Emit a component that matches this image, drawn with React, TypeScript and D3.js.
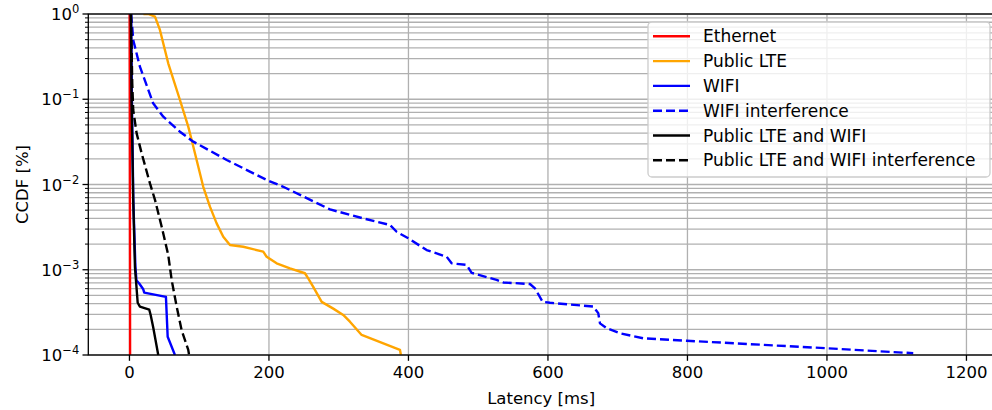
import React from 'react';
import * as d3 from 'd3';

// latency [ms] / CCDF values
const ethernetLat = [0.3, 0.5, 0.8, 1.0];
const ethernetCcdf = [1, 0.1, 0.001, 0.00001];

const lteLat = [20, 27, 36.6, 43.7, 55.6, 72.4, 84.3, 89.2, 96.3, 105.8, 115.4, 125, 134.5, 144.1, 163.2, 191.8, 196.7, 211, 230.1, 251.6, 256.3, 263.5, 275.6, 292.2, 306.5, 316.1, 332.9, 387.8, 389.2];
const lteCcdf = [1, 1, 0.93, 0.65, 0.264, 0.098, 0.0477, 0.0333, 0.0194, 0.0094, 0.0055, 0.0035, 0.00244, 0.00195, 0.00186, 0.00163, 0.00142, 0.00119, 0.00104, 0.00091, 0.00079, 0.00063, 0.00042, 0.00035, 0.000295, 0.000246, 0.000172, 0.000115, 0.0001];

const wifiLat = [2.5, 3.5, 5.5, 8.5, 10, 14, 19.8, 21.2, 52.3, 54.8, 65.2];
const wifiCcdf = [1, 0.1, 0.0066, 0.0011, 0.00075, 0.00069, 0.00059, 0.00054, 0.00048, 0.000164, 0.0001];

const wifiIntLat = [2, 4, 5.4, 15, 34, 48.5, 72.4, 91.5, 139.4, 196.7, 220.5, 287.5, 335.2, 373.5, 383.1, 399.7, 426.1, 454.8, 461.9, 483.4, 490.6, 526.4, 535.9, 574.2, 581.4, 592.4, 602.9, 664.9, 672.1, 674.6, 684.2, 703.2, 736.6, 798.9, 999.6, 1123.7];
const wifiIntCcdf = [1, 0.7, 0.495, 0.241, 0.0897, 0.0624, 0.0416, 0.0318, 0.0194, 0.0113, 0.0094, 0.0051, 0.004, 0.00335, 0.00279, 0.00234, 0.0017, 0.00142, 0.00119, 0.00114, 0.00092, 0.00076, 0.00071, 0.00068, 0.000605, 0.00042, 0.00041, 0.00037, 0.00031, 0.000235, 0.000206, 0.00018, 0.000157, 0.000147, 0.00012, 0.000105];

const lteWifiLat = [2, 3, 5.4, 7.9, 9.3, 11.8, 15, 28.4, 30.4, 34.1, 41.3];
const lteWifiCcdf = [1, 0.1, 0.0066, 0.00107, 0.00076, 0.00041, 0.00037, 0.00034, 0.000295, 0.00021, 0.0001];

const lteWifiIntLat = [2.2, 4, 5.4, 10.3, 17.5, 29.4, 36.6, 46.2, 55.6, 60.5, 67.7, 74.8, 84.3, 85.5];
const lteWifiIntCcdf = [1, 0.154, 0.0748, 0.0398, 0.0232, 0.0103, 0.0066, 0.0032, 0.00149, 0.00076, 0.00037, 0.000196, 0.000115, 0.0001];

const xTicks = [0, 200, 400, 600, 800, 1000, 1200];
const yExps = [0, -1, -2, -3, -4];

const series = [
  { name: 'Ethernet', lat: ethernetLat, ccdf: ethernetCcdf, color: 'red', dash: null },
  { name: 'Public LTE', lat: lteLat, ccdf: lteCcdf, color: 'orange', dash: null },
  { name: 'WIFI', lat: wifiLat, ccdf: wifiCcdf, color: 'blue', dash: null },
  { name: 'WIFI interference', lat: wifiIntLat, ccdf: wifiIntCcdf, color: 'blue', dash: '9,4' },
  { name: 'Public LTE and WIFI', lat: lteWifiLat, ccdf: lteWifiCcdf, color: 'black', dash: null },
  { name: 'Public LTE and WIFI interference', lat: lteWifiIntLat, ccdf: lteWifiIntCcdf, color: 'black', dash: '9,4' },
];

const W = 992;
const H = 410;
const left = 88.3;
const top = 14;
const bottom = 355;
const font = 'DejaVu Sans, sans-serif';

export default function App() {
  const x = d3.scaleLinear().domain([-59, 1240]).range([left, left + 1299 * 0.6975]);
  const y = d3.scaleLog().domain([1e-4, 1]).range([bottom, top]);
  const right = x(1240);

  const line = d3.line<[number, number]>()
    .x(d => x(d[0]))
    .y(d => y(d[1]));

  const minor: number[] = [];
  for (let e = -4; e < 0; e++) {
    for (let m = 2; m <= 9; m++) minor.push(m * Math.pow(10, e));
  }

  const gridColor = '#b0b0b0';

  return (
    <svg width={W} height={H} style={{ position: 'absolute', left: 0, top: 0, background: 'white' }} fontFamily={font}>
      <defs>
        <clipPath id="plot">
          <rect x={left} y={top} width={right - left} height={bottom - top} />
        </clipPath>
      </defs>
      {/* grid */}
      {minor.map(v => (
        <line key={'mg' + v} x1={left} x2={right} y1={y(v)} y2={y(v)} stroke={gridColor} strokeWidth={1.3} />
      ))}
      {yExps.map(e => (
        <line key={'yg' + e} x1={left} x2={right} y1={y(Math.pow(10, e))} y2={y(Math.pow(10, e))} stroke={gridColor} strokeWidth={1.3} />
      ))}
      {xTicks.map(t => (
        <line key={'xg' + t} x1={x(t)} x2={x(t)} y1={top} y2={bottom} stroke={gridColor} strokeWidth={1.3} />
      ))}
      {/* series */}
      <g clipPath="url(#plot)">
        {series.map(s => (
          <path key={s.name}
            d={line(s.lat.map((l, i) => [l, s.ccdf[i]] as [number, number])) || ''}
            fill="none" stroke={s.color} strokeWidth={2.4}
            strokeDasharray={s.dash || undefined} strokeLinejoin="round" />
        ))}
      </g>
      {/* spines */}
      <rect x={left} y={top} width={right - left} height={bottom - top} fill="none" stroke="black" strokeWidth={1.3} />
      {/* x axis */}
      {xTicks.map(t => (
        <g key={'xt' + t}>
          <line x1={x(t)} x2={x(t)} y1={bottom} y2={bottom + 5.8} stroke="black" strokeWidth={1.3} />
          <text x={x(t)} y={bottom + 23} textAnchor="middle" fontSize={16.5}>{t}</text>
        </g>
      ))}
      <text x={(left + 994) / 2} y={404} textAnchor="middle" fontSize={16.5}>Latency [ms]</text>
      {/* y axis */}
      {minor.map(v => (
        <line key={'ym' + v} x1={left - 3.3} x2={left} y1={y(v)} y2={y(v)} stroke="black" strokeWidth={1} />
      ))}
      {yExps.map(e => {
        const yy = y(Math.pow(10, e));
        const sup = e === 0 ? '0' : '\u2212' + Math.abs(e);
        return (
          <g key={'yt' + e}>
            <line x1={left - 5.8} x2={left} y1={yy} y2={yy} stroke="black" strokeWidth={1.3} />
            <text x={left - 9} y={yy + 6} textAnchor="end" fontSize={16.5}>
              10<tspan fontSize={11.5} dy={-7}>{sup}</tspan>
            </text>
          </g>
        );
      })}
      <text transform={`translate(27.5,${(top + bottom) / 2}) rotate(-90)`} textAnchor="middle" fontSize={16.5}>CCDF [%]</text>
      {/* legend */}
      <rect x={648} y={22} width={342} height={155} rx={4} fill="white" fillOpacity={0.8} stroke="#cccccc" strokeWidth={1.3} />
      {series.map((s, i) => {
        const ly = 36.3 + i * 24.8;
        return (
          <g key={'lg' + s.name}>
            <line x1={653} x2={690} y1={ly} y2={ly} stroke={s.color} strokeWidth={2.4} strokeDasharray={s.dash || undefined} />
            <text x={703} y={ly} dominantBaseline="central" fontSize={17}>{s.name}</text>
          </g>
        );
      })}
    </svg>
  );
}
